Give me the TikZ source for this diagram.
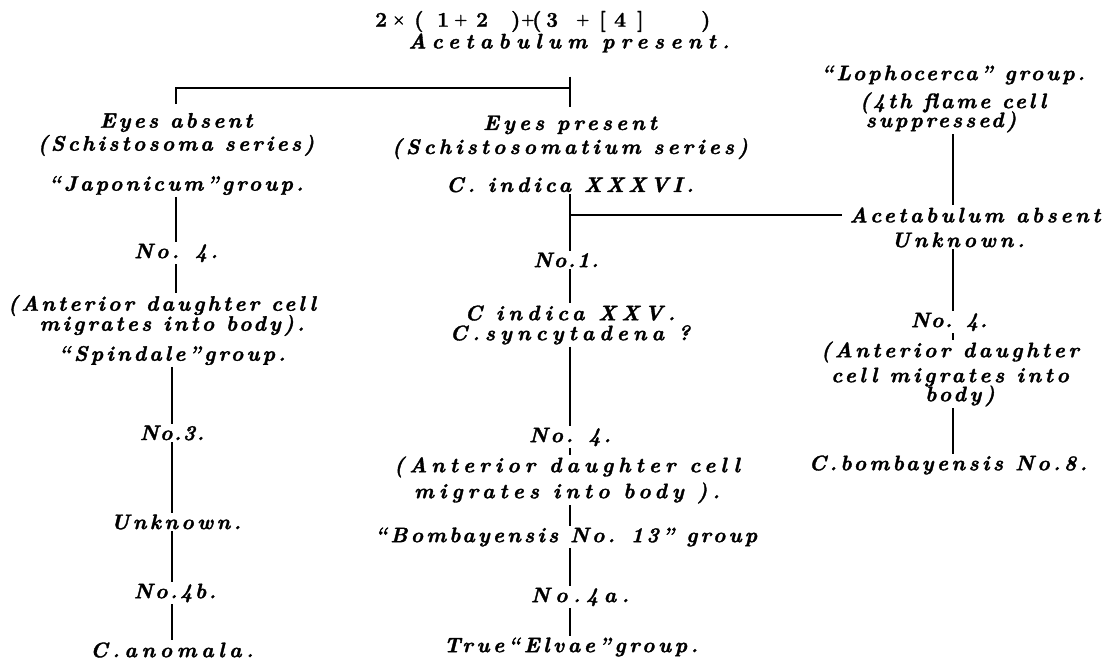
\documentclass[tikz,border=0pt]{standalone}
\usepackage{fontspec}
\newfontfamily\hand{Latin Modern Roman}
\newcommand\lsp[1]{\addfontfeature{LetterSpace=#1,FakeBold=1.6}}
\newcommand\gl[2]{\makebox[#1pt][l]{#2}}
\newcommand\sm[1]{\raisebox{2.5pt}{\fontsize{15}{15}\selectfont #1}}
\tikzset{
  txt/.style={font=\hand\bfseries\itshape\fontsize{21}{22}\selectfont\lsp{#1}, inner sep=2pt, outer sep=0pt, align=center},
  txt/.default=16,
  formula/.style={font=\hand\bfseries\fontsize{21}{22}\selectfont\lsp{0}, inner sep=0pt, anchor=west},
  conn/.style={line width=2.4pt}
}
\begin{document}
\begin{tikzpicture}[x=1pt,y=-1pt]
\useasboundingbox (0,0) rectangle (1110,663);
% top
\node[formula] (form) at (375,21.5) {\gl{17}{2}\gl{22}{\sm{×}}\gl{23}{(}\gl{17}{1}\gl{22}{\sm{+}}\gl{35}{2}\gl{10}{)}\gl{11}{\sm{+}}\gl{14}{(}\gl{30}{3}\gl{23}{\sm{+}}\gl{15}{[}\gl{23}{4}\gl{64}{]})};
\node[txt=30] (acet) at (569,43) {Acetabulum present.};
% left column
\node[txt=15] (L1) at (176,154) {Eyes absent\\[1pt](Schistosoma series)\\[18pt]“Japonicum”group.};
\node[txt=15] (L2) at (176,253) {No. 4.};
\node[txt=15] (L3) at (172,330) {(Anterior daughter cell\hspace*{20pt}\\[-2pt]migrates into body).\\[8pt]“Spindale”group.};
\node[txt=7] (L4) at (172,433) {No.3.};
\node[txt=16] (L5) at (176,522) {Unknown.};
\node[txt=12] (L6) at (175,593) {No.4b.};
\node[txt=22] (L7) at (172,650) {C.anomala.};
% middle column
\node[txt=19] (M1) at (570,154) {Eyes present\\[2pt](Schistosomatium series)\\[16pt]C. indica XXXVI.};
\node[txt=8] (M2) at (566,260) {No.1.};
\node[txt=24] (M3) at (570,325) {C indica XXV.\\[-2pt]C.syncytadena ?};
\node[txt=13] (M4) at (570,437) {No. 4.};
\node[txt=24] (M5) at (567,480) {(Anterior daughter cell\\[4pt]migrates into body ).};
\node[txt=15] (M6) at (566,537) {“Bombayensis No. 13” group};
\node[txt=26] (M7) at (580,597) {No.4a.};
\node[txt=17] (M8) at (571,647) {True“Elvae”group.};
% right column
\node[txt=14] (R1) at (953,99) {“Lophocerca” group.\\[6pt](4th flame cell\hspace*{24pt}\\[-3pt]suppressed)\hspace*{24pt}};
\node[txt=17] (R2) at (975,215) {Acetabulum absent};
\node[txt=18] (R3) at (958,240) {Unknown.};
\node[txt=7] (R4) at (949,322) {No. 4.};
\node[txt=17] (R5) at (950,374) {(Anterior daughter\\[3pt]cell migrates into\hspace*{20pt}\\[-3pt]\hspace*{20pt}body)};
\node[txt=16] (R6) at (948,465) {C.bombayensis No.8.};
% connectors
\coordinate (topj) at (570,88);
\draw[conn, shorten <=22pt, shorten >=7pt] (M1.north |- acet.south) -- (M1.north);
\draw[conn, shorten <=7pt] (L1.north) |- (topj);
\draw[conn] (L1.south) -- (L1.south |- L2.north);
\draw[conn] (L1.south |- L2.south) -- (L1.south |- L3.north);
\draw[conn] (L3.south) -- (L3.south |- L4.north);
\draw[conn] (L3.south |- L4.south) -- (L3.south |- L5.north);
\draw[conn] (L3.south |- L5.south) -- (L3.south |- L6.north);
\draw[conn] (L3.south |- L6.south) -- (L3.south |- L7.north);
\draw[conn] (M1.south) -- (M1.south |- M2.north);
\draw[conn, shorten >=6pt] (M1.south |- R2.west) -- (R2.west);
\draw[conn] (M1.south |- M2.south) -- (M1.south |- M3.north);
\draw[conn] (M1.south |- M3.south) -- (M1.south |- M4.north);
\draw[conn] (M1.south |- M4.south) -- (M1.south |- M5.north);
\draw[conn] (M1.south |- M5.south) -- (M1.south |- M6.north);
\draw[conn] (M1.south |- M6.south) -- (M1.south |- M7.north);
\draw[conn] (M1.south |- M7.south) -- (M1.south |- M8.north);
\draw[conn] (R1.south) -- (R1.south |- R2.north);
\draw[conn] (R1.south |- R3.south) -- (R1.south |- R4.north);
\draw[conn] (R1.south |- R4.south) -- (R1.south |- R5.north);
\draw[conn] (R1.south |- R5.south) -- (R1.south |- R6.north);
\end{tikzpicture}
\end{document}
